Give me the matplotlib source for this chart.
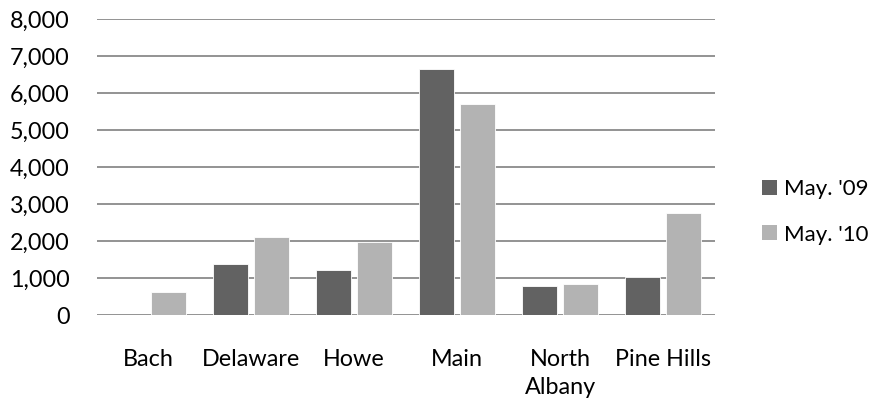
import numpy as np
import matplotlib.pyplot as plt
from matplotlib.ticker import FuncFormatter
from matplotlib.patches import Patch

plt.rcParams['font.family'] = ['Lato', 'DejaVu Sans']

branches = ['Bach', 'Delaware', 'Howe', 'Main', 'North\nAlbany', 'Pine Hills']
may_09 = [0, 1380, 1220, 6670, 780, 1040]
may_10 = [620, 2110, 1990, 5700, 840, 2760]
series_names = ["May. '09", "May. '10"]
colors = ['#626262', '#b3b3b3']
fs = 16.8

fig = plt.figure(figsize=(8.79, 4.05), dpi=100)
ax = fig.add_axes([0.110, 0.222, 0.703, 0.730])

x = np.arange(len(branches))
w = 0.34
ax.bar(x - 0.2, may_09, w, color=colors[0], edgecolor='white', linewidth=0.6, zorder=3)
ax.bar(x + 0.2, may_10, w, color=colors[1], edgecolor='white', linewidth=0.6, zorder=3)

ax.set_xlim(-0.5, len(branches) - 0.5)
ax.set_ylim(0, 8000)
ax.set_yticks(np.arange(0, 8001, 1000))
ax.yaxis.set_major_formatter(FuncFormatter(lambda v, p: '{:,.0f}'.format(v)))
ax.grid(axis='y', color='#8a8a8a', linewidth=1.3, zorder=0)
ax.set_xticks(x)
ax.set_xticklabels(branches, linespacing=1.4)
for s in ax.spines.values():
    s.set_visible(False)
ax.tick_params(axis='both', length=0, labelsize=fs, colors='black')
ax.tick_params(axis='x', pad=24.5)
ax.tick_params(axis='y', pad=19.5)

handles = [Patch(facecolor=c, edgecolor='none') for c in colors]
fig.legend(handles, series_names, loc='center left', bbox_to_anchor=(0.867, 0.477),
           frameon=False, fontsize=16, handlelength=0.68, handleheight=0.68,
           handletextpad=0.3, labelspacing=1.15, borderpad=0, borderaxespad=0)

fig.savefig('out.png', dpi=100)
